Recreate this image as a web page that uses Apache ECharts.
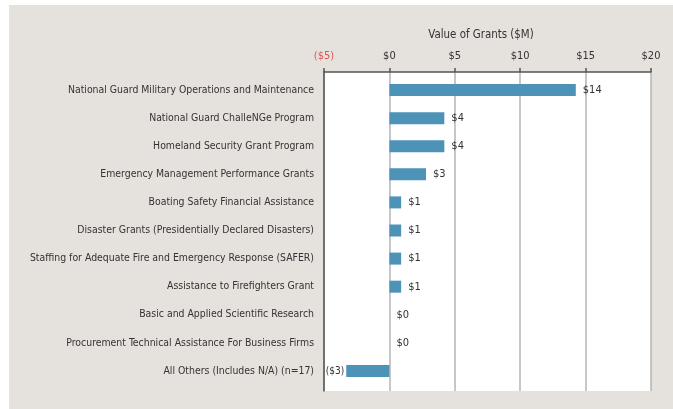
<!DOCTYPE html>
<html>
<head>
<meta charset="utf-8">
<script src="https://cdn.jsdelivr.net/npm/echarts@6/dist/echarts.min.js"></script>
<style>
html,body{margin:0;padding:0;background:#fff;}
#c{width:673px;height:409px;}
</style>
</head>
<body>
<div id="c"></div>
<script>
const categories = [
  "National Guard Military Operations and Maintenance",
  "National Guard ChalleNGe Program",
  "Homeland Security Grant Program",
  "Emergency Management Performance Grants",
  "Boating Safety Financial Assistance",
  "Disaster Grants (Presidentially Declared Disasters)",
  "Staffing for Adequate Fire and Emergency Response (SAFER)",
  "Assistance to Firefighters Grant",
  "Basic and Applied Scientific Research",
  "Procurement Technical Assistance For Business Firms",
  "All Others (Includes N/A) (n=17)"
];
const values = [14.25, 4.2, 4.2, 2.8, 0.9, 0.9, 0.9, 0.9, 0, 0, -3.3];
const tickValues = [-5, 0, 5, 10, 15, 20];
const axisTitle = "Value of Grants ($M)";

const FONT = '"DejaVu Sans Condensed", "Roboto", sans-serif';
const FS = 10.4;
const FS_NUM = 11;
const TXT = '#333333';

function money(v) {
  const r = Math.round(Math.abs(v));
  return v < 0 ? '($' + r + ')' : '$' + r;
}

const chart = echarts.init(document.getElementById('c'), null, {renderer: 'canvas'});
const L = 324, W = 327;
chart.setOption({
  backgroundColor: '#ffffff',
  animation: false,
  graphic: [{
    type: 'rect', z: -10, silent: true,
    shape: {x: 9, y: 5, width: 664, height: 404},
    style: {fill: '#e5e1dc'}
  }],
  title: {
    text: axisTitle,
    left: 476, top: 25, textAlign: 'center',
    textStyle: {fontFamily: FONT, fontSize: 11.4, fontWeight: 'normal', color: TXT}
  },
  grid: [
    {left: L, width: W, top: 72, height: 319, show: true, backgroundColor: '#ffffff', borderWidth: 0,
     containLabel: false, outerBoundsMode: 'none'},
    {left: L, width: W, top: 76, height: 309, containLabel: false, outerBoundsMode: 'none'}
  ],
  xAxis: [
    {
      gridIndex: 0, type: 'value', position: 'top',
      min: tickValues[0], max: tickValues[tickValues.length - 1], interval: 5,
      axisLine: {show: true, lineStyle: {color: '#555555', width: 1.5}},
      axisTick: {show: true, length: 4, lineStyle: {color: '#555555', width: 1.5}},
      axisLabel: {
        margin: 10, fontFamily: FONT, fontSize: FS_NUM,
        color: function (v) { return v < 0 ? '#e05555' : TXT; },
        formatter: money
      },
      splitLine: {show: true, lineStyle: {color: '#b4b4b4', width: 1.5}}
    },
    {
      gridIndex: 1, type: 'value',
      min: tickValues[0], max: tickValues[tickValues.length - 1], interval: 5,
      show: false, splitLine: {show: false}
    }
  ],
  yAxis: [
    {
      gridIndex: 0, type: 'category', data: categories, inverse: true,
      axisLine: {show: true, onZero: false, lineStyle: {color: '#555555', width: 1.5}},
      axisTick: {show: false}, axisLabel: {show: false}, splitLine: {show: false}
    },
    {
      gridIndex: 1, type: 'category', data: categories, inverse: true,
      axisLine: {show: false, onZero: false}, axisTick: {show: false},
      axisLabel: {margin: 10, fontFamily: FONT, fontSize: FS, color: TXT}
    }
  ],
  series: [{
    type: 'bar', xAxisIndex: 1, yAxisIndex: 1,
    data: values.map(v => ({
      value: v,
      label: v < 0
        ? {position: 'left', distance: 2, fontSize: 10}
        : {position: 'right', distance: 7}
    })),
    barWidth: 12,
    itemStyle: {color: '#4d93b8'},
    label: {
      show: true, fontFamily: FONT, fontSize: FS_NUM, color: TXT,
      formatter: p => money(p.value)
    }
  }]
});
</script>
</body>
</html>
